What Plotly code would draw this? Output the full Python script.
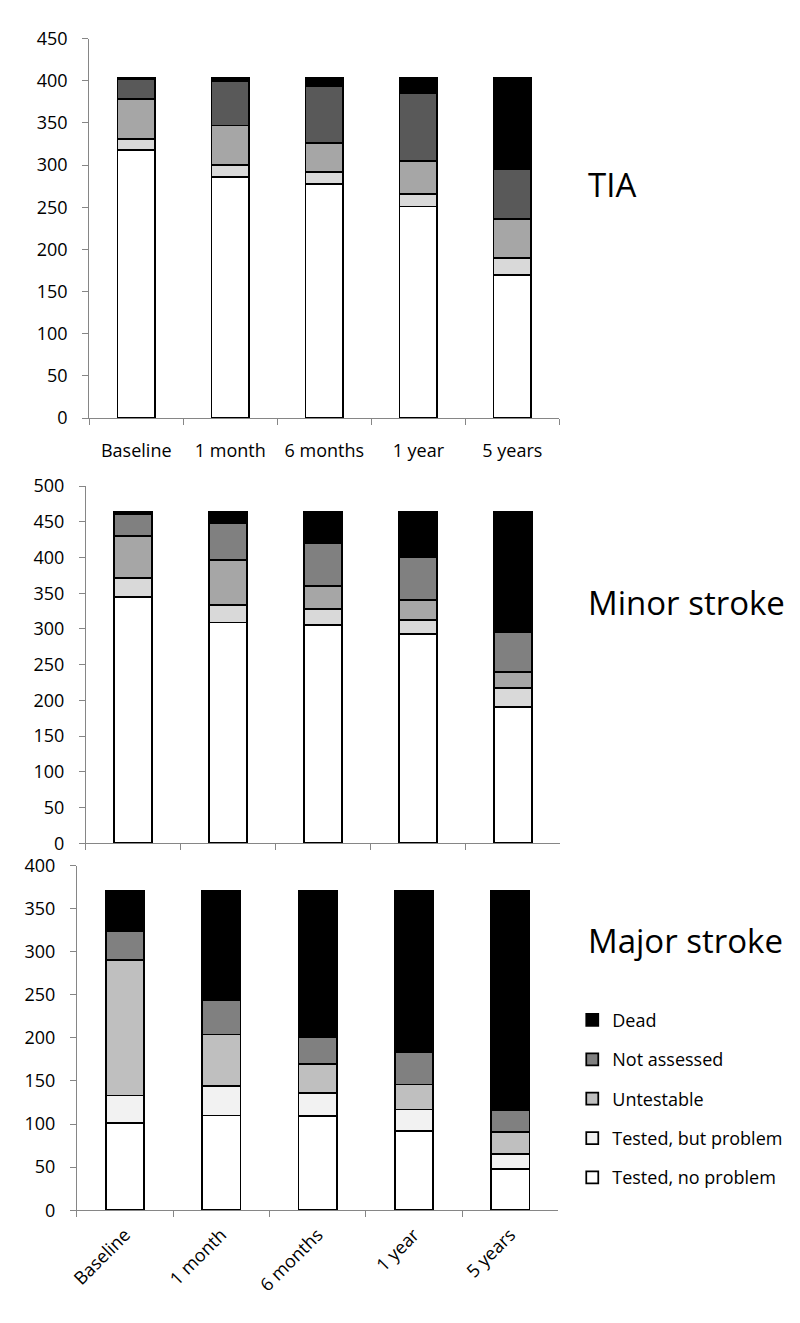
import plotly.graph_objects as go

timepoints = ["Baseline", "1 month", "6 months", "1 year", "5 years"]
series_names = ["Tested, no problem", "Tested, but problem", "Untestable", "Not assessed", "Dead"]

# TIA
tia_no_problem = [318, 286, 278, 251, 170]
tia_tested_problem = [13, 14, 14, 15, 20]
tia_untestable = [47, 47, 34, 39, 46]
tia_not_assessed = [24, 53, 68, 80, 59]
tia_dead = [1, 3, 9, 18, 108]

# Minor stroke
minor_no_problem = [345, 309, 306, 293, 191]
minor_tested_problem = [26, 25, 22, 19, 26]
minor_untestable = [59, 62, 32, 28, 23]
minor_not_assessed = [31, 52, 60, 61, 56]
minor_dead = [3, 16, 44, 63, 168]

# Major stroke
major_no_problem = [101, 110, 109, 92, 48]
major_tested_problem = [32, 34, 27, 25, 17]
major_untestable = [157, 60, 34, 29, 26]
major_not_assessed = [34, 40, 31, 37, 25]
major_dead = [47, 127, 170, 188, 255]

panel_titles = ["TIA", "Minor stroke", "Major stroke"]

# page body has an 8px margin, so the figure fills the viewport minus 16px
OFF = 8
W, H = 800 - 2 * OFF, 1323 - 2 * OFF
FONT = "Open Sans"

def px_x(v):
    return (v - OFF) / W

def px_y(v):
    return 1 - (v - OFF) / H

panels = [
    dict(data=[tia_no_problem, tia_tested_problem, tia_untestable, tia_not_assessed, tia_dead],
         colors=["#ffffff", "#d9d9d9", "#a6a6a6", "#595959", "#000000"],
         xdom=[px_x(82), px_x(557)], ydom=[px_y(412.5), px_y(26)], yrange=[0, 450],
         showlabels=True, angle=0, legend=False, title_y=175),
    dict(data=[minor_no_problem, minor_tested_problem, minor_untestable, minor_not_assessed, minor_dead],
         colors=["#ffffff", "#d9d9d9", "#a6a6a6", "#808080", "#000000"],
         xdom=[px_x(78.6), px_x(558)], ydom=[px_y(845.7), px_y(481.7)], yrange=[0, 500],
         showlabels=False, angle=0, legend=False, title_y=600),
    dict(data=[major_no_problem, major_tested_problem, major_untestable, major_not_assessed, major_dead],
         colors=["#ffffff", "#f2f2f2", "#bfbfbf", "#808080", "#000000"],
         xdom=[px_x(69.5), px_x(556)], ydom=[px_y(1219.5), px_y(868.3)], yrange=[0, 400],
         showlabels=True, angle=-45, legend=True, title_y=945),
]

ranks = {"Dead": 1, "Not assessed": 2, "Untestable": 3, "Tested, but problem": 4, "Tested, no problem": 5}

fig = go.Figure()
axis_grey = "#868686"
layout_axes = {}
annotations = []

for i, p in enumerate(panels):
    n = i + 1
    xa = "x" if n == 1 else f"x{n}"
    ya = "y" if n == 1 else f"y{n}"
    for name, vals, col in zip(series_names, p["data"], p["colors"]):
        fig.add_trace(go.Bar(
            x=timepoints, y=vals, name=name, xaxis=xa, yaxis=ya,
            marker=dict(color=col, line=dict(color="#000000", width=1.75)),
            showlegend=p["legend"], legendgroup=name, legendrank=ranks[name],
        ))
    xkey = "xaxis" if n == 1 else f"xaxis{n}"
    ykey = "yaxis" if n == 1 else f"yaxis{n}"
    layout_axes[xkey] = dict(
        domain=p["xdom"], anchor=ya, type="category",
        showline=True, linecolor=axis_grey, linewidth=1,
        ticks="outside", tickcolor=axis_grey, ticklen=6, tickson="boundaries",
        showgrid=False, zeroline=False, showticklabels=p["showlabels"],
        tickangle=p["angle"], ticklabelstandoff=16 if p["angle"] == 0 else 6,
        tickfont=dict(family=FONT, size=18, color="#000000"),
        categoryorder="array", categoryarray=timepoints,
    )
    layout_axes[ykey] = dict(
        domain=p["ydom"], anchor=xa, range=p["yrange"], dtick=50,
        showline=True, linecolor=axis_grey, linewidth=1,
        ticks="outside", tickcolor=axis_grey, ticklen=6,
        showgrid=False, zeroline=False, ticklabelstandoff=11,
        tickfont=dict(family=FONT, size=18, color="#000000"),
    )
    annotations.append(dict(
        text=panel_titles[i], xref="paper", yref="paper",
        x=px_x(584), y=px_y(p["title_y"]), xanchor="left", yanchor="middle",
        showarrow=False, font=dict(family=FONT, size=33, color="#000000"),
    ))

fig.update_layout(
    width=W, height=H,
    margin=dict(l=0, r=0, t=0, b=0),
    paper_bgcolor="#ffffff", plot_bgcolor="#ffffff",
    barmode="stack", bargap=0.6,
    font=dict(family=FONT, size=18, color="#000000"),
    showlegend=True,
    legend=dict(x=px_x(570), y=px_y(1007), xanchor="left", yanchor="top",
                tracegroupgap=13, bgcolor="rgba(0,0,0,0)",
                font=dict(family=FONT, size=18, color="#000000")),
    annotations=annotations,
    **layout_axes,
)

fig.write_html("out.html")
